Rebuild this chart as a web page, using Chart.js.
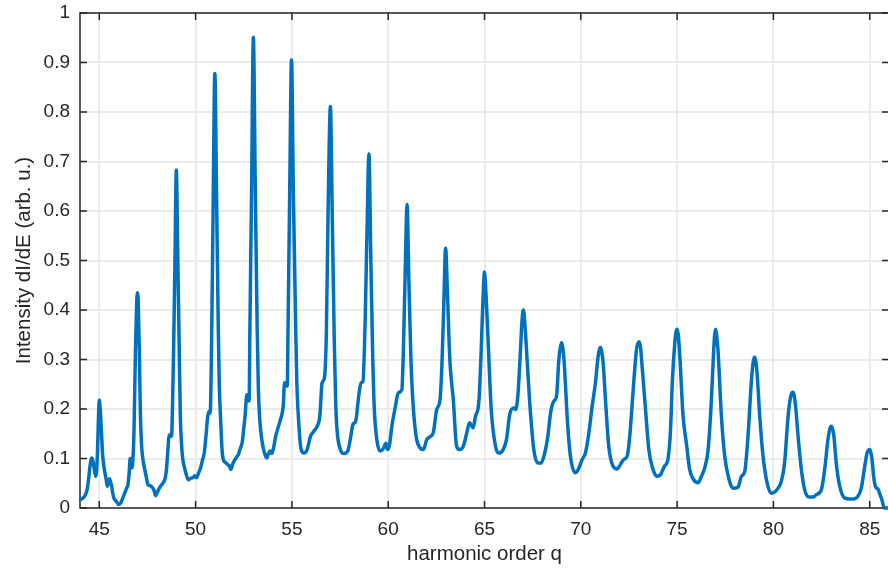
<!DOCTYPE html>
<html>
<head>
<meta charset="utf-8">
<title>Harmonic spectrum</title>
<script src="https://cdn.jsdelivr.net/npm/chart.js@4/dist/chart.umd.min.js"></script>
<style>
  html, body { margin: 0; padding: 0; background: #fff; overflow: hidden; }
  #wrap { width: 888px; height: 571px; overflow: hidden; }
</style>
</head>
<body>
<div id="wrap"><canvas id="spectrum" width="889" height="571"></canvas></div>
<script>
// harmonic order q (x) and intensity dI/dE (y)
var harmonicOrder = [
  44.0, 44.03, 44.15, 44.24, 44.37, 44.45, 44.5, 44.56, 44.62, 44.67, 44.72, 44.78, 44.83, 44.9, 44.95, 45.0, 45.05, 45.1, 45.17, 45.22, 45.28, 45.35, 45.42, 45.48, 45.54, 45.6, 45.63, 45.7, 45.76, 45.89, 46.0,
  46.11, 46.2, 46.32, 46.42, 46.49, 46.55, 46.6, 46.65, 46.7, 46.75, 46.8, 46.88, 46.94, 46.98, 47.02, 47.08, 47.13, 47.19, 47.26, 47.33, 47.43, 47.53, 47.64, 47.74, 47.85, 47.92, 48.0,
  48.09, 48.2, 48.32, 48.42, 48.49, 48.55, 48.61, 48.68, 48.75, 48.8, 48.86, 48.93, 49.0, 49.08, 49.16, 49.21, 49.27, 49.33, 49.41, 49.5, 49.62, 49.75, 49.88, 49.95,
  50.05, 50.15, 50.28, 50.38, 50.45, 50.55, 50.63, 50.7, 50.76, 50.83, 50.91, 51.0, 51.1, 51.18, 51.23, 51.3, 51.37, 51.44, 51.55, 51.67, 51.75, 51.84, 51.92,
  52.05, 52.15, 52.22, 52.32, 52.43, 52.5, 52.57, 52.66, 52.72, 52.78, 52.82, 52.91, 53.0, 53.1, 53.2, 53.26, 53.33, 53.44, 53.55, 53.7, 53.78, 53.87, 53.95,
  54.03, 54.16, 54.28, 54.41, 54.55, 54.62, 54.7, 54.76, 54.8, 54.89, 54.98, 55.08, 55.2, 55.26, 55.33, 55.45, 55.62, 55.79, 55.97,
  56.14, 56.31, 56.45, 56.57, 56.69, 56.79, 56.88, 57.0, 57.1, 57.2, 57.27, 57.34, 57.52, 57.72, 57.9,
  58.03, 58.17, 58.31, 58.47, 58.59, 58.69, 58.81, 58.9, 59.0, 59.1, 59.2, 59.28, 59.41, 59.59, 59.76, 59.88, 59.97,
  60.07, 60.19, 60.36, 60.53, 60.71, 60.79, 60.88, 60.98, 61.08, 61.18, 61.26, 61.35, 61.48, 61.66, 61.83,
  62.0, 62.17, 62.34, 62.52, 62.69, 62.8, 62.9, 62.98, 63.08, 63.2, 63.3, 63.38, 63.55, 63.72, 63.9,
  64.07, 64.22, 64.41, 64.53, 64.71, 64.83, 64.92, 65.0, 65.08, 65.17, 65.35, 65.57, 65.74, 65.97,
  66.14, 66.31, 66.52, 66.61, 66.73, 66.87, 66.95, 67.02, 67.1, 67.18, 67.35, 67.56, 67.77, 67.94,
  68.11, 68.29, 68.43, 68.6, 68.74, 68.86, 68.94, 69.01, 69.08, 69.15, 69.29, 69.46, 69.72, 69.9,
  70.07, 70.24, 70.42, 70.59, 70.76, 70.88, 70.95, 71.02, 71.09, 71.16, 71.28, 71.45, 71.68, 71.89,
  72.06, 72.23, 72.41, 72.54, 72.72, 72.89, 72.96, 73.03, 73.1, 73.18, 73.36, 73.53, 73.75, 73.96,
  74.13, 74.34, 74.52, 74.65, 74.75, 74.88, 74.94, 75.0, 75.06, 75.14, 75.31, 75.48, 75.65, 75.86,
  76.09, 76.26, 76.43, 76.61, 76.78, 76.9, 76.95, 77.0, 77.05, 77.12, 77.3, 77.47, 77.7, 77.9,
  78.16, 78.34, 78.51, 78.68, 78.85, 78.95, 79.03, 79.09, 79.15, 79.29, 79.46, 79.67, 79.89,
  80.06, 80.24, 80.41, 80.58, 80.76, 80.9, 81.02, 81.15, 81.28, 81.45, 81.62, 81.85,
  82.05, 82.23, 82.49, 82.66, 82.83, 82.93, 83.01, 83.08, 83.14, 83.26, 83.44, 83.7, 83.96,
  84.13, 84.39, 84.56, 84.74, 84.86, 84.94, 85.0, 85.06, 85.13, 85.2, 85.3, 85.43, 85.55, 85.62, 85.7, 85.77, 85.95
];

var intensity = [
  0.015, 0.017, 0.02, 0.024, 0.037, 0.06, 0.078, 0.095, 0.101, 0.095, 0.084, 0.07, 0.064, 0.105, 0.17, 0.218, 0.2, 0.165, 0.111, 0.09, 0.074, 0.06, 0.044, 0.052, 0.059, 0.05, 0.047, 0.03, 0.02, 0.013, 0.007,
  0.01, 0.018, 0.03, 0.04, 0.047, 0.07, 0.099, 0.1, 0.081, 0.1, 0.15, 0.32, 0.41, 0.435, 0.42, 0.32, 0.2, 0.131, 0.1, 0.084, 0.065, 0.047, 0.045, 0.042, 0.035, 0.025, 0.03,
  0.038, 0.045, 0.051, 0.06, 0.078, 0.11, 0.142, 0.148, 0.145, 0.2, 0.32, 0.5, 0.683, 0.5, 0.3, 0.185, 0.13, 0.1, 0.084, 0.07, 0.057, 0.06, 0.062, 0.065,
  0.061, 0.07, 0.084, 0.1, 0.111, 0.15, 0.185, 0.195, 0.192, 0.33, 0.6, 0.878, 0.6, 0.36, 0.25, 0.18, 0.12, 0.098, 0.092, 0.088, 0.085, 0.078, 0.088,
  0.098, 0.104, 0.108, 0.12, 0.135, 0.16, 0.185, 0.229, 0.225, 0.216, 0.36, 0.65, 0.951, 0.65, 0.36, 0.24, 0.18, 0.138, 0.115, 0.101, 0.11, 0.115, 0.11,
  0.118, 0.145, 0.162, 0.179, 0.206, 0.253, 0.25, 0.246, 0.36, 0.65, 0.905, 0.63, 0.36, 0.25, 0.19, 0.125, 0.111, 0.118, 0.145,
  0.155, 0.165, 0.185, 0.253, 0.263, 0.354, 0.6, 0.811, 0.58, 0.34, 0.22, 0.16, 0.118, 0.11, 0.115,
  0.138, 0.169, 0.175, 0.226, 0.253, 0.256, 0.388, 0.56, 0.715, 0.5, 0.3, 0.2, 0.138, 0.115, 0.121, 0.131, 0.118,
  0.128, 0.165, 0.202, 0.233, 0.239, 0.32, 0.47, 0.613, 0.45, 0.3, 0.23, 0.18, 0.138, 0.121, 0.118,
  0.138, 0.144, 0.152, 0.199, 0.219, 0.3, 0.43, 0.525, 0.43, 0.3, 0.25, 0.219, 0.125, 0.118, 0.125,
  0.15, 0.172, 0.162, 0.185, 0.216, 0.32, 0.42, 0.477, 0.43, 0.354, 0.199, 0.125, 0.111, 0.118,
  0.138, 0.189, 0.202, 0.199, 0.226, 0.32, 0.38, 0.4, 0.37, 0.32, 0.212, 0.118, 0.091, 0.091,
  0.108, 0.145, 0.192, 0.216, 0.226, 0.3, 0.325, 0.334, 0.32, 0.287, 0.185, 0.105, 0.071, 0.081,
  0.098, 0.111, 0.152, 0.206, 0.253, 0.3, 0.318, 0.324, 0.315, 0.293, 0.219, 0.125, 0.084, 0.079,
  0.088, 0.098, 0.105, 0.145, 0.239, 0.32, 0.332, 0.336, 0.325, 0.287, 0.199, 0.118, 0.078, 0.064,
  0.067, 0.084, 0.098, 0.152, 0.253, 0.334, 0.355, 0.361, 0.35, 0.307, 0.185, 0.131, 0.078, 0.057,
  0.051, 0.064, 0.081, 0.118, 0.219, 0.32, 0.35, 0.361, 0.35, 0.32, 0.185, 0.105, 0.057, 0.04,
  0.042, 0.064, 0.074, 0.145, 0.253, 0.295, 0.305, 0.295, 0.273, 0.185, 0.105, 0.051, 0.03,
  0.032, 0.04, 0.054, 0.091, 0.185, 0.226, 0.234, 0.206, 0.145, 0.078, 0.037, 0.022,
  0.022, 0.027, 0.037, 0.078, 0.138, 0.16, 0.165, 0.158, 0.145, 0.091, 0.044, 0.02, 0.018,
  0.018, 0.024, 0.04, 0.084, 0.111, 0.117, 0.118, 0.112, 0.095, 0.065, 0.043, 0.038, 0.025, 0.018, 0.006, 0.0, 0.0
];

var xTicks = [45, 50, 55, 60, 65, 70, 75, 80, 85];
var yTicks = [0, 0.1, 0.2, 0.3, 0.4, 0.5, 0.6, 0.7, 0.8, 0.9, 1];
var yTickLabels = ['0', '0.1', '0.2', '0.3', '0.4', '0.5', '0.6', '0.7', '0.8', '0.9', '1'];

var textColor = '#262626';
var fontFamily = "'Liberation Sans', Arial, Helvetica, sans-serif";

// matlab style box with inward ticks on all four sides
var axesBox = {
  id: 'axesBox',
  beforeDatasetsDraw: function(chart) {
    var ctx = chart.ctx;
    var a = chart.chartArea;
    var x = chart.scales.x, y = chart.scales.y;
    ctx.save();
    ctx.strokeStyle = textColor;
    ctx.lineWidth = 1.5;
    ctx.strokeRect(a.left, a.top, a.right - a.left, a.bottom - a.top);
    ctx.beginPath();
    xTicks.forEach(function(v) {
      var px = x.getPixelForValue(v);
      ctx.moveTo(px, a.bottom); ctx.lineTo(px, a.bottom - 7);
      ctx.moveTo(px, a.top); ctx.lineTo(px, a.top + 7);
    });
    yTicks.forEach(function(v) {
      var py = y.getPixelForValue(v);
      ctx.moveTo(a.left, py); ctx.lineTo(a.left + 7, py);
      ctx.moveTo(a.right, py); ctx.lineTo(a.right - 7, py);
    });
    ctx.stroke();
    ctx.restore();
  }
};

var points = harmonicOrder.map(function(q, i) {
  return { x: q, y: intensity[i] };
});

new Chart(document.getElementById('spectrum'), {
  type: 'line',
  data: {
    datasets: [{
      data: points,
      borderColor: '#0072BD',
      borderWidth: 3.5,
      borderJoinStyle: 'round',
      cubicInterpolationMode: 'monotone',
      pointRadius: 0,
      fill: false,
      clip: false
    }]
  },
  options: {
    responsive: false,
    animation: false,
    devicePixelRatio: 1,
    layout: { padding: { top: 13, left: 0, right: 0, bottom: 0 } },
    plugins: { legend: { display: false }, tooltip: { enabled: false } },
    scales: {
      x: {
        type: 'linear',
        min: 44,
        max: 86,
        afterBuildTicks: function(scale) {
          scale.ticks = xTicks.map(function(v) { return { value: v }; });
        },
        afterFit: function(scale) {
          scale.height = 63;
          scale.paddingLeft = 0;
          scale.paddingRight = 0;
        },
        grid: { color: '#ebebeb', lineWidth: 2, drawTicks: false },
        border: { display: false },
        ticks: {
          color: textColor,
          font: { family: fontFamily, size: 19 },
          padding: 10,
          maxRotation: 0,
          autoSkip: false
        },
        title: {
          display: true,
          text: 'harmonic order q',
          color: textColor,
          font: { family: fontFamily, size: 20.5 },
          padding: { top: 0, bottom: 4 }
        }
      },
      y: {
        min: 0,
        max: 1,
        afterBuildTicks: function(scale) {
          scale.ticks = yTicks.map(function(v) { return { value: v }; });
        },
        afterFit: function(scale) {
          scale.width = 80;
          scale.paddingTop = 0;
          scale.paddingBottom = 0;
        },
        grid: { color: '#ebebeb', lineWidth: 2, drawTicks: false },
        border: { display: false },
        ticks: {
          color: textColor,
          font: { family: fontFamily, size: 19 },
          padding: 10,
          autoSkip: false,
          callback: function(value, index) { return yTickLabels[index]; }
        },
        title: {
          display: true,
          text: 'Intensity dI/dE (arb. u.)',
          color: textColor,
          font: { family: fontFamily, size: 20.5 },
          padding: { top: 12, bottom: 0 }
        }
      }
    }
  },
  plugins: [axesBox]
});
</script>
</body>
</html>
